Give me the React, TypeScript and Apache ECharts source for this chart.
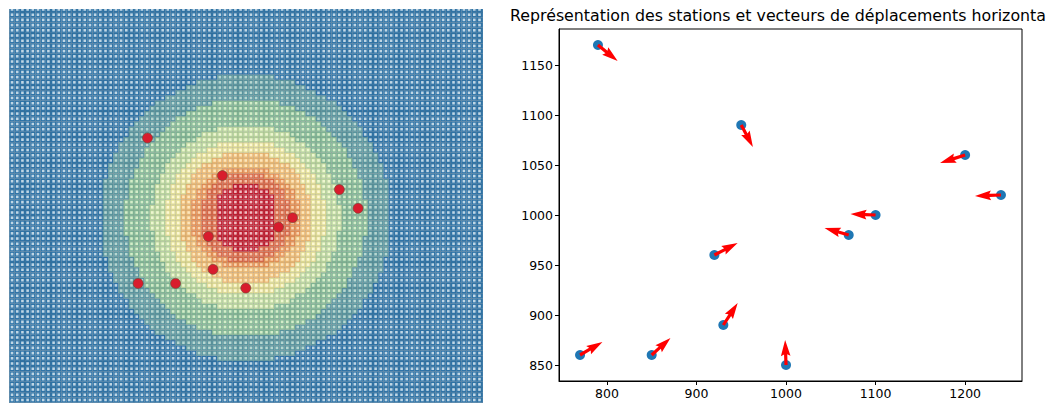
import React, { useEffect, useRef } from "react";
import * as echarts from "echarts";

const stationX = [790, 950, 1200, 1240, 1100, 1070, 920, 930, 1000, 770, 850];
const stationY = [1170, 1090, 1060, 1020, 1000, 980, 960, 890, 850, 860, 860];
const shiftX = [22, 13, -28, -29, -28, -27, 26, 16, -1, 25, 21];
const shiftY = [-16, -22, -8, -1, 1, 7, 12, 22, 25, 13, 17];
const xTicks = [800, 900, 1000, 1100, 1200];
const yTicks = [850, 900, 950, 1000, 1050, 1100, 1150];
const titleText = "Représentation des stations et vecteurs de déplacements horizonta";

// half-width of each zone (in cells) for rows at growing distance from the centre, outermost first
const zoneTeal = [27, 27, 27, 27, 27, 27, 27, 27, 26, 26, 26, 25, 25, 24, 24, 23, 22, 22, 21, 20, 19, 18, 17, 15, 13, 11, 9, 5];
const zoneGreen = [23, 23, 23, 23, 22, 22, 22, 22, 21, 21, 20, 20, 19, 19, 18, 17, 16, 15, 14, 13, 11, 9, 6];
const zonePale = [18, 18, 18, 17, 17, 17, 17, 16, 16, 15, 15, 14, 13, 12, 11, 9, 8, 5];
const zoneYellow = [15, 15, 15, 15, 14, 14, 14, 13, 13, 12, 11, 10, 9, 7, 5];
const zoneApricot = [12, 12, 12, 12, 12, 11, 11, 10, 10, 9, 8, 6, 4];
const zoneOrange = [10, 10, 10, 10, 9, 9, 8, 7, 6, 4];
const zoneCoral = [8, 8, 8, 8, 7, 7, 6, 5, 3];
const zoneRed = [5, 5, 5, 5, 5, 4, 2];
const zones = [zoneTeal, zoneGreen, zonePale, zoneYellow, zoneApricot, zoneOrange, zoneCoral, zoneRed];

const cellFill = ["#2f76ab", "#5a98a2", "#84ba98", "#bcd9a0", "#e4e098", "#efbb74", "#e99155", "#dc6847", "#c41c30"];
const cellDot = ["#c0d6e4", "#b8d6d0", "#d4ecc8", "#eef6d0", "#fdf8d4", "#fce6bc", "#f9d6b0", "#f4c0a8", "#efbcc0"];

const CELL = 11.1;
const cells: number[][] = [];
for (let j = -36; j <= 40; j++) {
  for (let i = -46; i <= 46; i++) {
    let level = 0;
    zones.forEach((z, k) => {
      const hw = z[Math.abs(j)];
      if (hw !== undefined && Math.abs(i) <= hw) level = k + 1;
    });
    cells.push([1000 + i * CELL, 1000 + j * CELL, level]);
  }
}

const vectors = stationX.map((x, i) => [x, stationY[i], x + shiftX[i], stationY[i] + shiftY[i]]);

export default function App() {
  const ref = useRef<HTMLDivElement>(null);
  useEffect(() => {
    const chart = echarts.init(ref.current!, null, { renderer: "svg" });
    const font = "DejaVu Sans";
    chart.setOption({
      animation: false,
      backgroundColor: "#fff",
      title: {
        text: titleText,
        left: 505,
        top: 2,
        textStyle: { fontFamily: font, fontSize: 15.8, fontWeight: "normal", color: "#000" },
      },
      grid: [
        { left: 9, top: 9, width: 474, height: 394, show: false },
        { left: 559, top: 29, width: 463, height: 352, show: true, borderColor: "#000", borderWidth: 1 },
      ],
      xAxis: [
        { gridIndex: 0, type: "value", min: 494, max: 1507, show: false },
        {
          gridIndex: 1, type: "value", min: 746.5, max: 1263.5, splitLine: { show: false },
          axisLine: { show: true, lineStyle: { color: "#000", width: 1 } },
          axisTick: { length: 4, lineStyle: { color: "#000" }, customValues: xTicks },
          axisLabel: { fontFamily: font, fontSize: 12.5, color: "#000", margin: 6, customValues: xTicks, formatter: (v: number) => String(v) },
        },
      ],
      yAxis: [
        { gridIndex: 0, type: "value", min: 605, max: 1445, show: false },
        {
          gridIndex: 1, type: "value", min: 834, max: 1186, splitLine: { show: false },
          axisLine: { show: true, lineStyle: { color: "#000", width: 1 } },
          axisTick: { length: 4, lineStyle: { color: "#000" }, customValues: yTicks },
          axisLabel: { fontFamily: font, fontSize: 12.5, color: "#000", margin: 6, customValues: yTicks, formatter: (v: number) => String(v) },
        },
      ],
      series: [
        {
          type: "custom",
          xAxisIndex: 0,
          yAxisIndex: 0,
          data: cells,
          progressive: 0,
          silent: true,
          clip: true,
          renderItem: (_: any, api: any) => {
            const c = api.coord([api.value(0), api.value(1)]);
            const s = api.size([CELL, CELL]);
            const lv = api.value(2);
            const d = s[0] * 0.5;
            return {
              type: "group",
              children: [
                {
                  type: "rect",
                  shape: { x: c[0] - s[0] / 2, y: c[1] - s[1] / 2, width: s[0], height: s[1] },
                  style: { fill: cellFill[lv], stroke: "rgba(95,95,95,0.22)", lineWidth: 0.5 },
                },
                { type: "rect", shape: { x: c[0] - d / 2, y: c[1] - d / 2, width: d, height: d }, style: { fill: cellDot[lv] } },
              ],
            };
          },
        },
        {
          type: "scatter",
          xAxisIndex: 0,
          yAxisIndex: 0,
          data: stationX.map((x, i) => [x, stationY[i]]),
          symbolSize: 10,
          itemStyle: { color: "#d81c2d", opacity: 1, borderColor: "rgba(110,70,50,0.6)", borderWidth: 1 },
          z: 5,
        },
        {
          type: "scatter",
          xAxisIndex: 1,
          yAxisIndex: 1,
          data: stationX.map((x, i) => [x, stationY[i]]),
          symbolSize: 10,
          itemStyle: { color: "#1f77b4", opacity: 1 },
          z: 5,
        },
        {
          type: "custom",
          xAxisIndex: 1,
          yAxisIndex: 1,
          data: vectors,
          z: 6,
          silent: true,
          renderItem: (_: any, api: any) => {
            const a = api.coord([api.value(0), api.value(1)]);
            const b = api.coord([api.value(2), api.value(3)]);
            const dx = b[0] - a[0];
            const dy = b[1] - a[1];
            const len = Math.hypot(dx, dy);
            const ux = dx / len;
            const uy = dy / len;
            const nx = -uy;
            const ny = ux;
            const P = (along: number, side: number) => [a[0] + ux * along + nx * side, a[1] + uy * along + ny * side];
            return {
              type: "polygon",
              shape: {
                points: [
                  P(0, 1.6), P(len - 14.4, 1.6), P(len - 16, 4.8), P(len, 0),
                  P(len - 16, -4.8), P(len - 14.4, -1.6), P(0, -1.6),
                ],
              },
              style: { fill: "#ff0000" },
            };
          },
        },
      ],
    });
    return () => chart.dispose();
  }, []);
  return <div ref={ref} style={{ position: "absolute", left: 0, top: 0, width: 1054, height: 403 }} />;
}
